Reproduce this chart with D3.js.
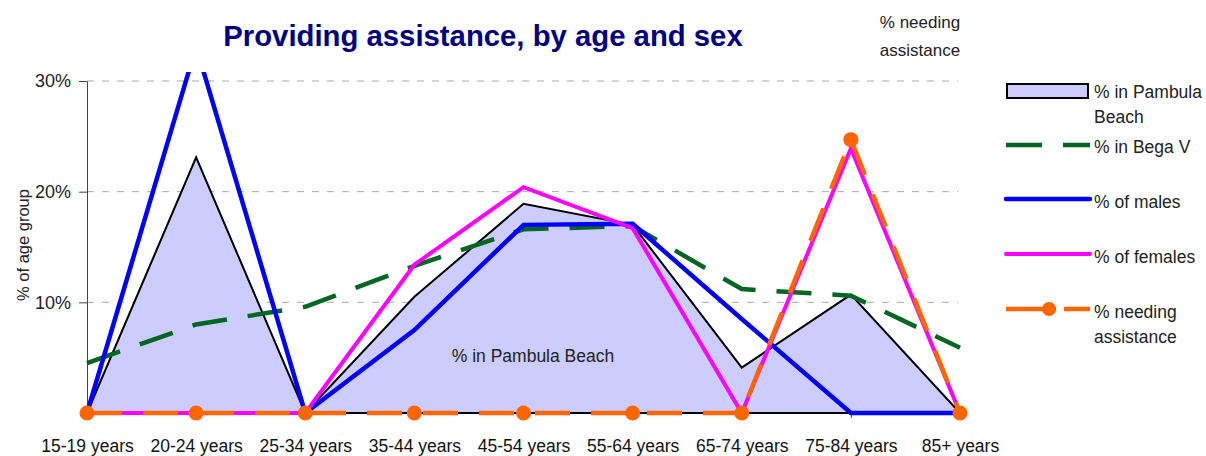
<!DOCTYPE html>
<html>
<head>
<meta charset="utf-8">
<script src="https://cdn.jsdelivr.net/npm/d3@7"></script>
<style>
  body{margin:0;background:#fff;}
  svg{font-family:"Liberation Sans",Arial,sans-serif;}
</style>
</head>
<body>
<script>
const ageGroups=["15-19 years","20-24 years","25-34 years","35-44 years","45-54 years",
                 "55-64 years","65-74 years","75-84 years","85+ years"];
const pambula=[0,23.1,0,10.5,18.9,17.0,4.1,10.7,0];
const begaV=[4.5,8.0,9.6,13.3,16.6,16.9,11.2,10.6,5.9];
const males=[0,33.1,0,7.5,17.0,17.1,8.5,0,0];
const females=[0,0,0,13.4,20.4,16.7,0,23.9,0];
const needing=[0,0,0,0,0,0,0,24.7,0];
const yTicks=[10,20,30];

const w=1206;
const h=456;
const margin={top:72,bottom:43,left:87,right:246};

const svg=d3.select("body").append("svg").attr("width",w).attr("height",h);

const xScale=d3.scalePoint().domain(ageGroups).range([margin.left,960]).padding(0);
const yScale=d3.scaleLinear().domain([0,30]).range([413,81]);

// title + top-right note
svg.append("text")
  .text("Providing assistance, by age and sex")
  .attr("x",483).attr("y",46)
  .attr("text-anchor","middle")
  .style("font-size","29.3px").style("font-weight","bold")
  .attr("fill","#000080");
svg.append("text").text("% needing").attr("x",920).attr("y",28)
  .attr("text-anchor","middle").style("font-size","17px").attr("fill","#222");
svg.append("text").text("assistance").attr("x",920).attr("y",56)
  .attr("text-anchor","middle").style("font-size","17px").attr("fill","#222");

// gridlines
svg.append("g").selectAll("line").data(yTicks).enter().append("line")
  .attr("x1",margin.left).attr("x2",958)
  .attr("y1",d=>yScale(d)).attr("y2",d=>yScale(d))
  .attr("stroke","#aaa").attr("stroke-dasharray","7,8");

// axes
const yAxis=d3.axisLeft(yScale).tickValues(yTicks).tickFormat(d=>d+"%").tickSize(8).tickSizeOuter(0).tickPadding(8);
const gy=svg.append("g").attr("transform",`translate(${margin.left},0)`).call(yAxis);
gy.selectAll("text").style("font-size","18px").attr("fill","#222");
gy.select(".domain").attr("stroke","#444");
gy.selectAll(".tick line").attr("stroke","#444");

svg.append("text")
  .text("% of age group")
  .attr("transform","translate(29,245) rotate(-90)")
  .attr("text-anchor","middle")
  .style("font-size","16.5px").attr("fill","#222");

const xAxis=d3.axisBottom(xScale).tickSize(5).tickSizeOuter(0);
const gx=svg.append("g").attr("transform","translate(0,413)").call(xAxis);
gx.selectAll("text").style("font-size","17.5px").attr("fill","#111").attr("y",27);
gx.select(".domain").attr("stroke","#000");
gx.selectAll(".tick line").attr("stroke","#444");

// clip for plot area
svg.append("clipPath").attr("id","plotclip").append("rect")
  .attr("x",margin.left-10).attr("y",margin.top).attr("width",900).attr("height",360);

const plot=svg.append("g").attr("clip-path","url(#plotclip)");

const area=d3.area().x((d,i)=>xScale(ageGroups[i])).y0(yScale(0)).y1(d=>yScale(d));
const line=d3.line().x((d,i)=>xScale(ageGroups[i])).y(d=>yScale(d));

plot.append("path").datum(pambula).attr("d",area)
  .attr("fill","#ccccff").attr("stroke","#000").attr("stroke-width",2).attr("stroke-linejoin","miter");

plot.append("text").text("% in Pambula Beach")
  .attr("x",533).attr("y",362).attr("text-anchor","middle")
  .style("font-size","17.5px").attr("fill","#222");

plot.append("path").datum(begaV).attr("d",line)
  .attr("fill","none").attr("stroke","#006622").attr("stroke-width",4.5).attr("stroke-dasharray","35,21");
plot.append("path").datum(males).attr("d",line)
  .attr("fill","none").attr("stroke","#0000ff").attr("stroke-width",4.5);
plot.append("path").datum(females).attr("d",line)
  .attr("fill","none").attr("stroke","#ff00ff").attr("stroke-width",4);
plot.append("path").datum(needing).attr("d",line)
  .attr("fill","none").attr("stroke","#ff6600").attr("stroke-width",4.5).attr("stroke-dasharray","35,21");
svg.append("g").selectAll("circle").data(needing).enter().append("circle")
  .attr("cx",(d,i)=>xScale(ageGroups[i])).attr("cy",d=>yScale(d)).attr("r",7.5)
  .attr("fill","#ff6600");

// legend
const lg=svg.append("g");
const lx=1006, lx2=1090, tx=1094;
lg.append("rect").attr("x",1007).attr("y",84).attr("width",81).attr("height",14)
  .attr("fill","#ccccff").attr("stroke","#000").attr("stroke-width",2);
const legendRows=[
  {lines:["% in Pambula","Beach"],y:98},
  {lines:["% in Bega V"],y:153},
  {lines:["% of males"],y:208},
  {lines:["% of females"],y:263},
  {lines:["% needing","assistance"],y:318}
];
legendRows.forEach(r=>{
  r.lines.forEach((t,i)=>{
    lg.append("text").text(t).attr("x",tx).attr("y",r.y+i*25)
      .style("font-size","17.5px").attr("fill","#222");
  });
});
lg.append("line").attr("x1",lx).attr("x2",lx2).attr("y1",145).attr("y2",145)
  .attr("stroke","#006622").attr("stroke-width",4.5).attr("stroke-dasharray","36,21");
lg.append("line").attr("x1",lx).attr("x2",lx2).attr("y1",199).attr("y2",199)
  .attr("stroke","#0000ff").attr("stroke-width",4.5).attr("stroke-linecap","round");
lg.append("line").attr("x1",lx).attr("x2",lx2).attr("y1",254).attr("y2",254)
  .attr("stroke","#ff00ff").attr("stroke-width",4).attr("stroke-linecap","round");
lg.append("line").attr("x1",lx).attr("x2",lx2).attr("y1",309).attr("y2",309)
  .attr("stroke","#ff6600").attr("stroke-width",4.5).attr("stroke-dasharray","50,8");
lg.append("circle").attr("cx",1049).attr("cy",309).attr("r",7).attr("fill","#ff6600");
</script>
</body>
</html>
